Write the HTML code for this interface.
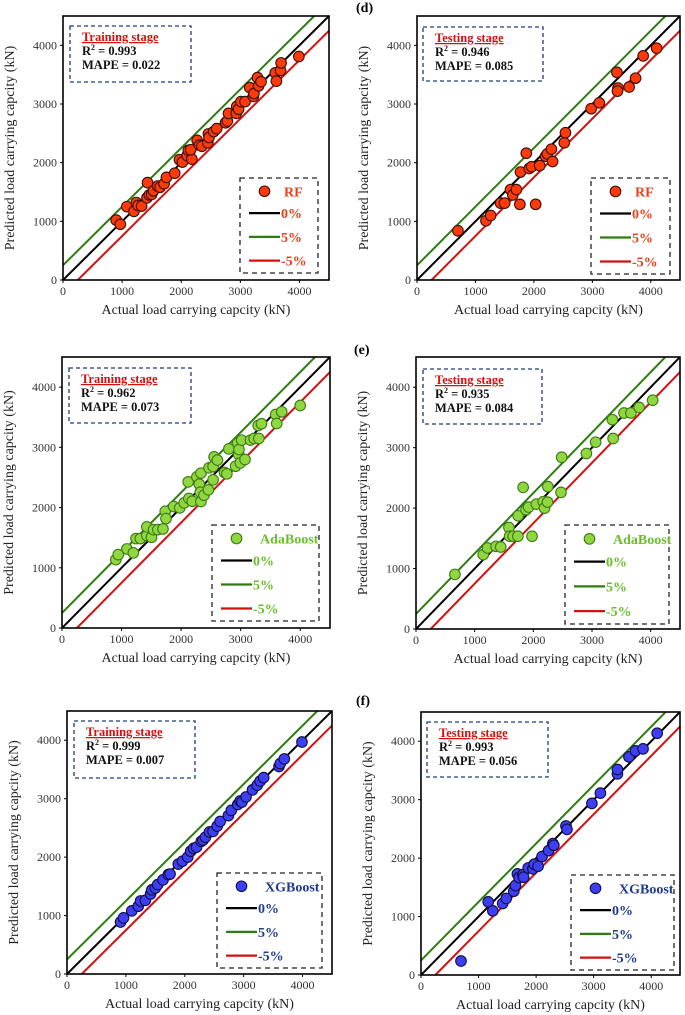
<!DOCTYPE html>
<html><head><meta charset="utf-8"><style>
html,body{margin:0;padding:0;background:#fff}
svg{display:block}
text{font-family:"Liberation Serif",serif}
</style></head><body>
<svg id="fig" width="685" height="1015" viewBox="0 0 685 1015" xmlns="http://www.w3.org/2000/svg"></svg>
<script>
// ---- data ----
const ticks = [0,1000,2000,3000,4000];
const rfTrainX = [900,970,1080,1200,1240,1270,1330,1420,1430,1460,1500,1530,1600,1640,1710,1750,1890,1970,2020,2100,2120,2180,2160,2270,2310,2350,2450,2460,2470,2550,2600,2750,2780,2800,2930,2940,2970,3010,3080,3160,3220,3230,3290,3310,3350,3590,3610,3680,3690,3990];
const rfTrainY = [1020,950,1250,1170,1320,1270,1260,1400,1660,1450,1460,1520,1600,1580,1640,1750,1820,2050,2010,2120,2210,2060,2220,2380,2300,2280,2340,2490,2430,2530,2580,2680,2710,2840,2840,2960,2910,3040,3040,3280,3130,3180,3450,3310,3380,3530,3390,3570,3700,3810];
const rfTestX = [700,1180,1260,1430,1500,1600,1640,1700,1760,1770,1870,1920,1960,2030,2100,2200,2230,2300,2320,2520,2540,2980,3120,3420,3440,3430,3630,3740,3870,4100];
const rfTestY = [840,1010,1100,1310,1310,1540,1450,1540,1290,1840,2160,1900,1930,1290,1950,2110,2150,2230,2020,2340,2510,2920,3020,3540,3270,3220,3290,3440,3820,3950];
const adaTrainX = [904,944,1090,1198,1243,1316,1424,1424,1503,1537,1610,1695,1734,1746,1876,1977,2051,2119,2130,2186,2265,2305,2333,2322,2333,2384,2458,2469,2537,2537,2554,2610,2729,2768,2802,2915,2949,2966,2972,2994,3017,3073,3164,3226,3294,3305,3350,3588,3605,3689,4000];
const adaTrainY = [1136,1219,1313,1247,1485,1485,1535,1679,1507,1634,1634,1645,1939,1817,2017,1994,2078,2427,2150,2105,2510,2388,2571,2255,2100,2205,2294,2659,2681,2460,2842,2787,2582,2560,2975,2687,3069,2881,2964,2742,3119,2798,3119,3147,3363,3147,3391,3546,3396,3590,3695];
const adaTestX = [663,1146,1219,1365,1444,1584,1596,1657,1736,1742,1876,1921,1978,2051,2169,2191,2242,2247,1826,2472,2483,2904,3062,3348,3360,3545,3663,3803,4034];
const adaTestY = [903,1230,1341,1368,1357,1679,1535,1535,1535,1873,1972,2017,1535,2066,2105,2000,2100,2355,2343,2260,2842,2903,3091,3463,3152,3573,3573,3667,3784];
const xgbTrainX = [910,960,1100,1210,1250,1330,1420,1440,1500,1540,1630,1720,1750,1890,1960,2050,2100,2150,2200,2280,2310,2350,2420,2480,2550,2600,2740,2790,2900,2940,2970,3040,3150,3230,3280,3340,3600,3620,3690,3990];
const xgbTrainY = [890,960,1080,1160,1250,1260,1370,1440,1470,1530,1610,1700,1710,1880,1930,2000,2100,2150,2170,2270,2290,2340,2430,2440,2530,2610,2710,2800,2900,2960,2940,3030,3150,3230,3300,3360,3550,3600,3680,3970];
const xgbTestX = [695,1168,1248,1419,1481,1612,1641,1675,1704,1772,1783,1863,1943,1966,2034,2103,2217,2291,2308,2519,2536,2969,3117,3413,3413,3613,3726,3858,4103];
const xgbTestY = [239,1252,1098,1223,1309,1434,1531,1730,1667,1718,1673,1832,1815,1895,1861,2026,2128,2248,2219,2549,2492,2936,3112,3442,3516,3733,3835,3869,4137];

const NS='http://www.w3.org/2000/svg';
const svg=document.getElementById('fig');
function mk(tag,attrs,parent){const e=document.createElementNS(NS,tag);for(const k in attrs)e.setAttribute(k,attrs[k]);(parent||svg).appendChild(e);return e;}

const panels=[
 {id:'rf-train',l:63,r:329,t:16,b:280,xs:rfTrainX,ys:rfTrainY,stage:'Training stage',r2:'0.993',mape:'0.022',model:'RF',fill:'#ff3a0a',edge:'#3a1005',tc:'#e8401a',leg:[240,178,318,273],st:[70,26,191,82],tag:null},
 {id:'rf-test',l:417,r:680,t:16,b:280,xs:rfTestX,ys:rfTestY,stage:'Testing stage',r2:'0.946',mape:'0.085',model:'RF',fill:'#ff3a0a',edge:'#3a1005',tc:'#e8401a',leg:[591,178,670,274],st:[423,27,543,81],tag:['(d)',356,12]},
 {id:'ada-train',l:62,r:330,t:357,b:628,xs:adaTrainX,ys:adaTrainY,stage:'Training stage',r2:'0.962',mape:'0.073',model:'AdaBoost',fill:'#8fd640',edge:'#3d7a15',tc:'#6cbd2c',leg:[212,525,319,621],st:[69,368,191,423],tag:null},
 {id:'ada-test',l:416,r:680,t:357,b:629,xs:adaTestX,ys:adaTestY,stage:'Testing stage',r2:'0.935',mape:'0.084',model:'AdaBoost',fill:'#8fd640',edge:'#3d7a15',tc:'#6cbd2c',leg:[565,525,669,624],st:[423,369,542,424],tag:['(e)',354,354]},
 {id:'xgb-train',l:67,r:332,t:711,b:974,xs:xgbTrainX,ys:xgbTrainY,stage:'Training stage',r2:'0.999',mape:'0.007',model:'XGBoost',fill:'#3e3ef5',edge:'#101040',tc:'#1f3a93',leg:[217,873,322,968],st:[74,721,195,778],tag:null},
 {id:'xgb-test',l:421,r:680,t:712,b:975,xs:xgbTestX,ys:xgbTestY,stage:'Testing stage',r2:'0.993',mape:'0.056',model:'XGBoost',fill:'#3e3ef5',edge:'#101040',tc:'#1f3a93',leg:[571,875,674,970],st:[427,722,548,777],tag:['(f)',356,705]}
];

panels.forEach(p=>{
 const g=mk('g',{});
 
 
 const sx=v=>p.l+(v/4500)*(p.r-p.l);
 const sy=v=>p.b-(v/4500)*(p.b-p.t);
 const cid='clip-'+p.id;
 const cp=mk('clipPath',{id:cid},g);mk('rect',{x:p.l,y:p.t,width:p.r-p.l,height:p.b-p.t},cp);
 if(p.tag){const t=mk('text',{x:p.tag[1],y:p.tag[2],'font-size':14,'font-weight':'bold',fill:'#000'},g);t.textContent=p.tag[0];
  }
 // ref lines
 const lg=mk('g',{'clip-path':'url(#'+cid+')'},g);
 const l0=mk('line',{x1:sx(0),y1:sy(0),x2:sx(4500),y2:sy(4500),stroke:'#000','stroke-width':2},lg);
 
 const l5=mk('line',{x1:sx(0),y1:sy(250),x2:sx(4250),y2:sy(4500),stroke:'#2e7d10','stroke-width':2},lg);
 
 const lm=mk('line',{x1:sx(250),y1:sy(0),x2:sx(4500),y2:sy(4250),stroke:'#d41010','stroke-width':2},lg);
 
 // points
 p.xs.forEach((xv,i)=>{
  const c=mk('circle',{cx:sx(xv),cy:sy(p.ys[i]),r:5.3,fill:p.fill,stroke:p.edge,'stroke-width':1.1},g);
  
  
 });
 // frame
 const fr=mk('rect',{x:p.l,y:p.t,width:p.r-p.l,height:p.b-p.t,fill:'none',stroke:'#000','stroke-width':1.6},g);
 
 // ticks
 ticks.forEach(v=>{
  mk('line',{x1:sx(v),y1:p.b,x2:sx(v),y2:p.b+3,stroke:'#000','stroke-width':1},g);
  mk('line',{x1:p.l-3,y1:sy(v),x2:p.l,y2:sy(v),stroke:'#000','stroke-width':1},g);
  const tx=mk('text',{x:sx(v),y:p.b+15,'font-size':12,'text-anchor':'middle',fill:'#333'},g);tx.textContent=v;
  
  const ty=mk('text',{x:p.l-6,y:sy(v)+4,'font-size':12,'text-anchor':'end',fill:'#333'},g);ty.textContent=v;
  
 });
 const xt=mk('text',{x:(p.l+p.r)/2,y:p.b+34,'font-size':14,'text-anchor':'middle',fill:'#222'},g);
 xt.textContent='Actual load carrying capcity (kN)';
 
 const yx=p.l-49, yy=(p.t+p.b)/2;
 const yt=mk('text',{x:yx,y:yy,'font-size':14,'text-anchor':'middle',fill:'#222',transform:'rotate(-90 '+yx+' '+yy+')'},g);
 yt.textContent='Predicted load carrying capcity (kN)';
 
 // stats box
 const s=p.st;
 const sb=mk('rect',{x:s[0],y:s[1],width:s[2]-s[0],height:s[3]-s[1],fill:'#fff',stroke:'#1f3a7a','stroke-width':1.3,'stroke-dasharray':'4,3'},g);
 
 const st1=mk('text',{x:s[0]+12,y:s[1]+15,'font-size':12.5,'font-weight':'bold',fill:'#d41010','text-decoration':'underline'},g);st1.textContent=p.stage;
 
 const st2=mk('text',{x:s[0]+12,y:s[1]+29,'font-size':12.5,'font-weight':'bold',fill:'#111'},g);
 st2.innerHTML='R<tspan font-size="8" dy="-5">2</tspan><tspan dy="5"> = '+p.r2+'</tspan>';
 
 const st3=mk('text',{x:s[0]+12,y:s[1]+43,'font-size':12.5,'font-weight':'bold',fill:'#111'},g);st3.textContent='MAPE = '+p.mape;
 
 // legend
 const L=p.leg;
 const lb=mk('rect',{x:L[0],y:L[1],width:L[2]-L[0],height:L[3]-L[1],fill:'#fff',stroke:'#222','stroke-width':1.3,'stroke-dasharray':'5,4'},g);
 
 const rows=[L[1]+(L[3]-L[1])*0.14,L[1]+(L[3]-L[1])*0.37,L[1]+(L[3]-L[1])*0.62,L[1]+(L[3]-L[1])*0.87];
 const lx1=L[0]+9, lx2=L[0]+40;
 const lm0=mk('circle',{cx:(lx1+lx2)/2,cy:rows[0],r:5.3,fill:p.fill,stroke:p.edge,'stroke-width':1.1},g);
 
 const lt0=mk('text',{x:lx2+(p.model==='RF'?4:8),y:rows[0]+5,'font-size':14,'font-weight':'bold',fill:p.tc},g);lt0.textContent=p.model;
 
 [['#000','0%'],['#2e7d10','5%'],['#d41010','-5%']].forEach((d,i)=>{
  const ll=mk('line',{x1:lx1,y1:rows[i+1],x2:lx2,y2:rows[i+1],stroke:d[0],'stroke-width':2.2},g);
  
  const lt=mk('text',{x:lx2+1,y:rows[i+1]+5,'font-size':14,'font-weight':'bold',fill:p.tc},g);lt.textContent=d[1];
  
 });
});
</script>
</body></html>
